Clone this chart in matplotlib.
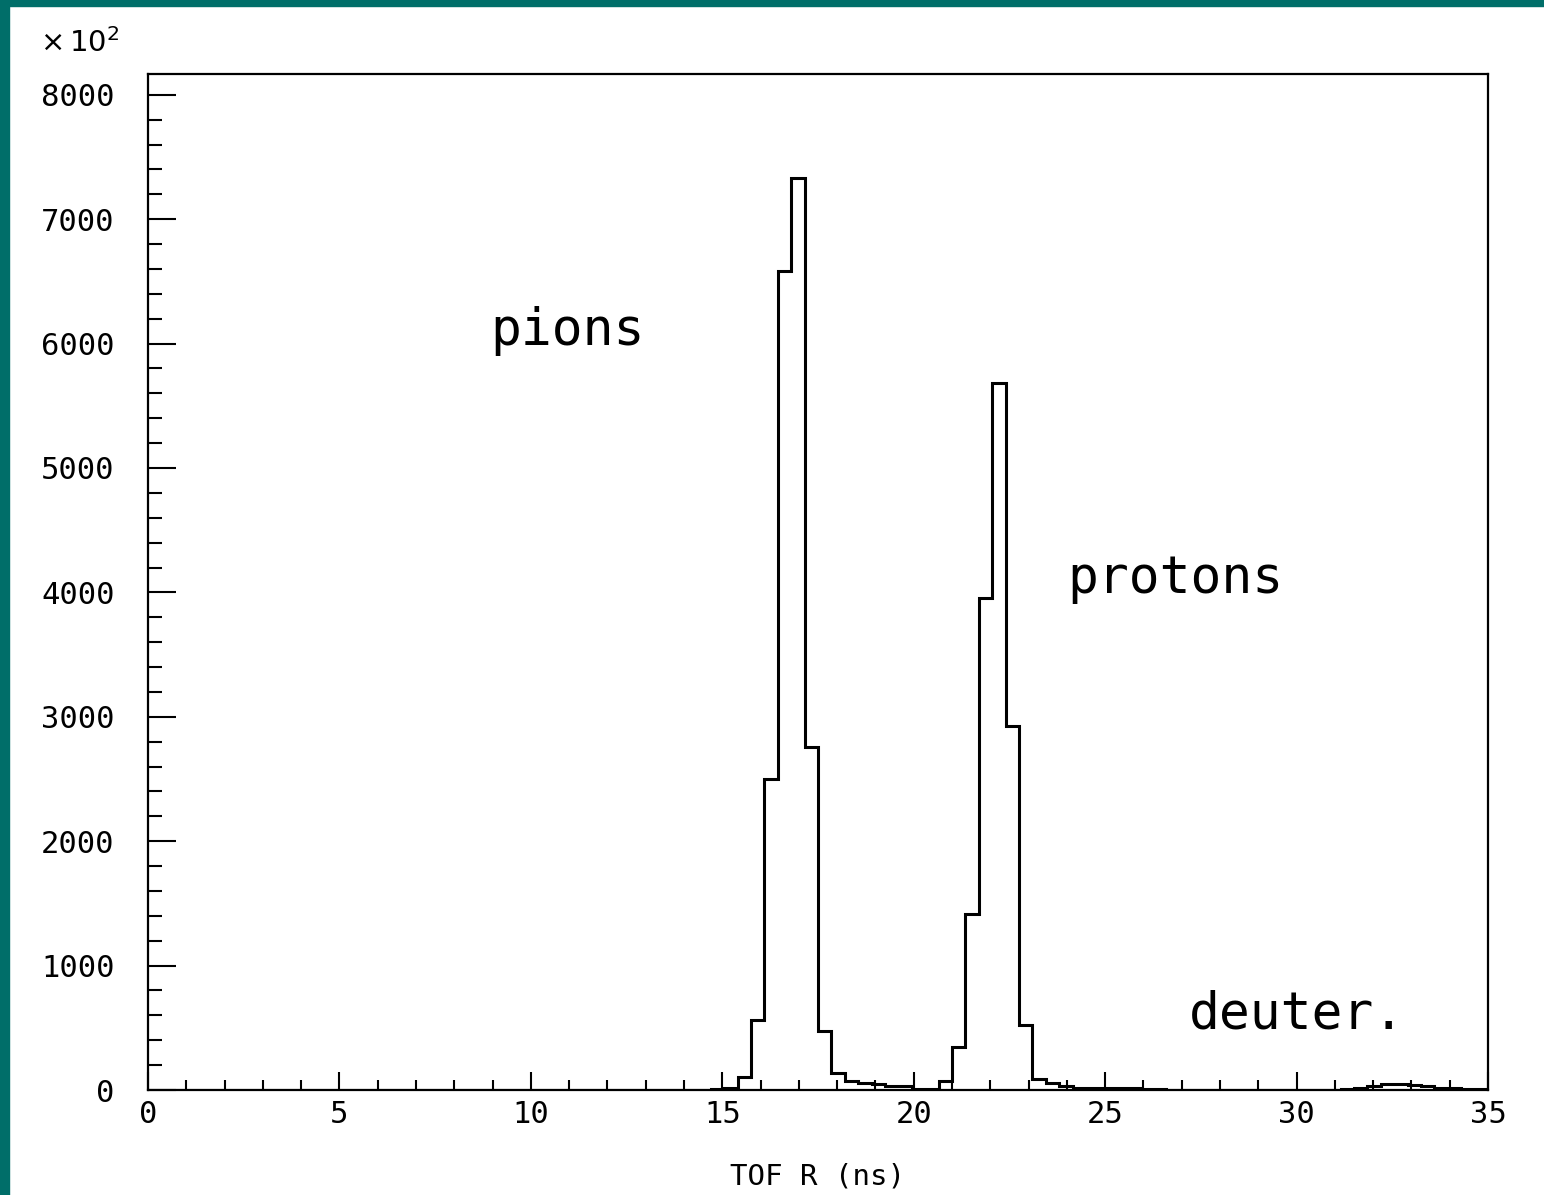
import numpy as np
import matplotlib
matplotlib.use("Agg")
import matplotlib.pyplot as plt
from matplotlib.patches import Rectangle
from matplotlib.ticker import MultipleLocator

# TOF R spectrum, 100 bins of 0.35 ns between 0 and 35 ns (counts in units of 1e2)
x_min = 0.0
x_max = 35.0
n_bins = 100

counts = [
    0, 0, 0, 0, 0, 0, 0, 0, 0, 0,
    0, 0, 0, 0, 0, 0, 0, 0, 0, 0,
    0, 0, 0, 0, 0, 0, 0, 0, 0, 0,
    0, 0, 0, 0, 0, 0, 0, 0, 0, 0,
    0, 0, 5, 15, 107, 563, 2500, 6580, 7330, 2757,
    474, 135, 75, 55, 45, 35, 35, 10, 10, 75,
    346, 1415, 3955, 5683, 2926, 522, 88, 55, 30, 15,
    15, 15, 15, 15, 12, 12, 0, 0, 0, 0,
    0, 0, 0, 0, 0, 0, 0, 0, 0, 10,
    15, 30, 45, 50, 40, 35, 20, 15, 12, 10,
]

peak_labels = ["pions", "protons", "deuter."]
peak_label_x = [8.94, 24.0, 27.2]
peak_label_y = [5990, 3995, 498]

x_ticks = [0, 5, 10, 15, 20, 25, 30, 35]
y_ticks = [0, 1000, 2000, 3000, 4000, 5000, 6000, 7000, 8000]

plt.rcParams["font.family"] = ["DejaVu Sans Mono"]
plt.rcParams["mathtext.fontset"] = "dejavusans"

edges = np.linspace(x_min, x_max, n_bins + 1)

fig = plt.figure(figsize=(15.44, 11.95), dpi=100)
fig.patch.set_facecolor("white")

# teal frame along the top and left edges
fig.patches.append(
    Rectangle((0, 1 - 6 / 1195), 1, 6 / 1195,
              transform=fig.transFigure, color="#006e69", zorder=0)
)
fig.patches.append(
    Rectangle((0, 0), 9 / 1544, 1,
              transform=fig.transFigure, color="#006e69", zorder=0)
)

ax = fig.add_axes([148 / 1544, 105 / 1195, 1340 / 1544, 1016 / 1195])

ax.stairs(counts, edges, color="black", linewidth=2.2)

ax.set_xlim(x_min, x_max)
ax.set_ylim(0, 8167)

for spine in ax.spines.values():
    spine.set_linewidth(1.6)

ax.set_xticks(x_ticks)
ax.set_yticks(y_ticks)
ax.xaxis.set_minor_locator(MultipleLocator(1))
ax.yaxis.set_minor_locator(MultipleLocator(200))

ax.tick_params(axis="x", which="major", direction="in", length=13,
               width=1.5, labelsize=22, pad=7, top=False)
ax.tick_params(axis="x", which="minor", direction="in", length=7,
               width=1.5, top=False)
ax.tick_params(axis="y", which="major", direction="in", length=20,
               width=1.5, labelsize=22, pad=24, right=False)
ax.tick_params(axis="y", which="minor", direction="in", length=10,
               width=1.5, right=False)

ax.set_xlabel("TOF R (ns)", fontsize=21, labelpad=24)

for label, lx, ly in zip(peak_labels, peak_label_x, peak_label_y):
    ax.text(lx, ly, label, fontsize=37, va="baseline", ha="left")

fig.text(40 / 1544, 1 - 52 / 1195, r"$\times\,10^{2}$", fontsize=21,
         va="baseline", ha="left")

fig.savefig("out.png", dpi=100)
plt.close(fig)
